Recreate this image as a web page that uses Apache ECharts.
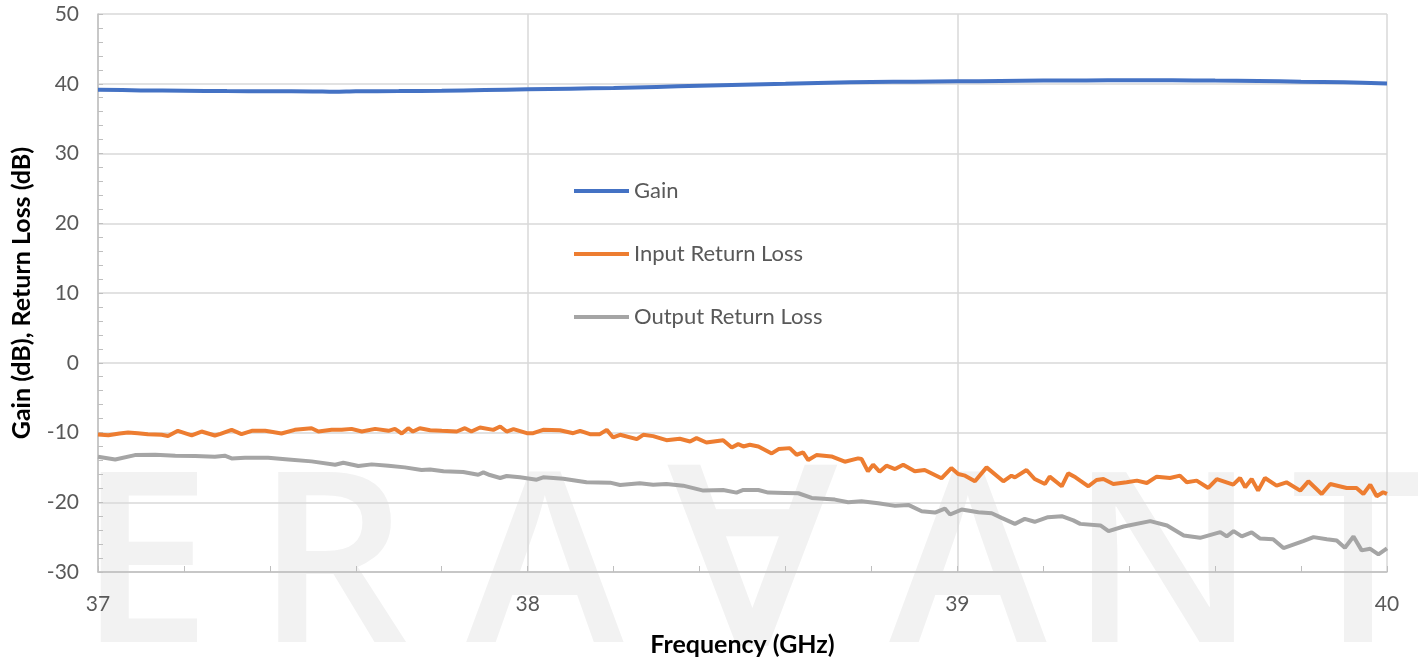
<!DOCTYPE html>
<html>
<head>
<meta charset="utf-8">
<title>Gain and Return Loss</title>
<script src="https://cdn.jsdelivr.net/npm/echarts@6/dist/echarts.min.js"></script>
<style>
  html, body { margin: 0; padding: 0; background: #fff; }
  #chart { width: 1418px; height: 662px; }
</style>
</head>
<body>
<div id="chart"></div>
<script>
// values (GHz / dB)
var gainFreq = [37.00, 37.10, 37.20, 37.30, 37.40, 37.50, 37.55, 37.60, 37.70, 37.80, 37.90, 38.00,
  38.10, 38.20, 38.30, 38.40, 38.50, 38.60, 38.70, 38.80, 38.90, 39.00, 39.10, 39.20, 39.30,
  39.40, 39.50, 39.60, 39.70, 39.80, 39.90, 40.00];
var gain = [39.15, 39.05, 39.0, 38.95, 38.92, 38.9, 38.85, 38.92, 38.95, 39.0, 39.1, 39.2,
  39.3, 39.4, 39.55, 39.7, 39.85, 40.0, 40.15, 40.25, 40.3, 40.35, 40.4, 40.45, 40.48,
  40.5, 40.5, 40.45, 40.4, 40.3, 40.2, 40.05];

var inFreq = [37.000, 37.024, 37.050, 37.070, 37.093, 37.116, 37.148, 37.163, 37.186, 37.218,
  37.241, 37.272, 37.285, 37.311, 37.334, 37.358, 37.389, 37.400, 37.427, 37.458, 37.497,
  37.513, 37.544, 37.567, 37.590, 37.614, 37.645, 37.676, 37.691, 37.707, 37.722, 37.733,
  37.749, 37.773, 37.800, 37.835, 37.854, 37.869, 37.889, 37.920, 37.936, 37.951, 37.967,
  37.998, 38.013, 38.036, 38.075, 38.106, 38.122, 38.145, 38.168, 38.184, 38.199, 38.215,
  38.254, 38.269, 38.292, 38.323, 38.354, 38.378, 38.393, 38.416, 38.455, 38.475, 38.490,
  38.502, 38.517, 38.537, 38.568, 38.584, 38.610, 38.626, 38.641, 38.653, 38.672, 38.707,
  38.738, 38.769, 38.777, 38.792, 38.804, 38.819, 38.835, 38.855, 38.874, 38.901, 38.924,
  38.963, 38.986, 39.002, 39.018, 39.041, 39.068, 39.107, 39.126, 39.134, 39.161, 39.180,
  39.204, 39.215, 39.243, 39.258, 39.275, 39.305, 39.324, 39.340, 39.363, 39.394, 39.418,
  39.441, 39.464, 39.495, 39.518, 39.534, 39.557, 39.584, 39.604, 39.642, 39.658, 39.670,
  39.685, 39.700, 39.716, 39.743, 39.766, 39.798, 39.817, 39.848, 39.868, 39.906, 39.929,
  39.945, 39.961, 39.976, 39.991, 40.000];
var inputLoss = [-10.3, -10.4, -10.15, -10.0, -10.1, -10.25, -10.33, -10.5, -9.76, -10.4,
  -9.86, -10.43, -10.2, -9.62, -10.24, -9.76, -9.76, -9.86, -10.14, -9.62, -9.38,
  -9.86, -9.62, -9.62, -9.48, -9.86, -9.48, -9.76, -9.48, -10.14, -9.38, -9.86,
  -9.38, -9.67, -9.76, -9.86, -9.38, -9.86, -9.29, -9.62, -9.14, -9.86, -9.52,
  -10.1, -10.1, -9.62, -9.67, -10.1, -9.76, -10.24, -10.24, -9.62, -10.71, -10.33,
  -10.95, -10.33, -10.52, -11.1, -10.9, -11.29, -10.81, -11.43, -11.1, -12.14, -11.67,
  -12.0, -11.76, -12.0, -13.0, -12.38, -12.24, -13.19, -12.86, -13.95, -13.24, -13.43,
  -14.19, -13.71, -13.8, -15.57, -14.62, -15.62, -14.76, -15.24, -14.62, -15.57, -15.38,
  -16.57, -15.1, -15.95, -16.19, -17.0, -15.0, -17.0, -16.19, -16.43, -15.38, -16.67,
  -17.38, -16.33, -17.71, -15.86, -16.43, -17.71, -16.81, -16.67, -17.38, -17.14, -16.9,
  -17.24, -16.33, -16.52, -16.19, -17.14, -16.9, -17.95, -16.67, -17.48, -16.52, -17.86,
  -16.67, -18.33, -16.52, -17.62, -17.14, -18.33, -17.0, -18.81, -17.38, -17.95, -17.95,
  -18.81, -17.48, -19.14, -18.57, -18.8];

var outFreq = [37.000, 37.040, 37.086, 37.133, 37.180, 37.226, 37.272, 37.295, 37.311, 37.342,
  37.396, 37.443, 37.497, 37.552, 37.571, 37.606, 37.637, 37.676, 37.714, 37.753, 37.773,
  37.804, 37.850, 37.885, 37.897, 37.912, 37.936, 37.951, 37.982, 38.021, 38.036, 38.083,
  38.137, 38.192, 38.215, 38.261, 38.292, 38.323, 38.362, 38.409, 38.455, 38.486, 38.502,
  38.537, 38.560, 38.599, 38.630, 38.661, 38.715, 38.746, 38.777, 38.816, 38.855, 38.886,
  38.917, 38.948, 38.971, 38.983, 39.010, 39.049, 39.080, 39.103, 39.134, 39.157, 39.180,
  39.211, 39.243, 39.270, 39.286, 39.333, 39.352, 39.387, 39.449, 39.488, 39.527, 39.565,
  39.612, 39.627, 39.643, 39.662, 39.685, 39.704, 39.735, 39.759, 39.805, 39.829, 39.860,
  39.883, 39.902, 39.922, 39.941, 39.961, 39.980, 40.000];
var outputLoss = [-13.48, -13.86, -13.24, -13.19, -13.33, -13.38, -13.48, -13.33, -13.71, -13.62,
  -13.62, -13.86, -14.14, -14.62, -14.33, -14.81, -14.57, -14.76, -15.0, -15.38, -15.29,
  -15.57, -15.67, -16.05, -15.71, -16.1, -16.52, -16.24, -16.43, -16.76, -16.43, -16.62,
  -17.14, -17.19, -17.52, -17.29, -17.48, -17.38, -17.62, -18.33, -18.24, -18.62, -18.24,
  -18.24, -18.62, -18.67, -18.71, -19.38, -19.62, -20.0, -19.86, -20.14, -20.52, -20.38,
  -21.29, -21.48, -20.9, -21.76, -21.05, -21.43, -21.57, -22.24, -23.1, -22.38, -22.8,
  -22.14, -22.0, -22.6, -23.1, -23.33, -24.14, -23.48, -22.71, -23.33, -24.76, -25.1,
  -24.29, -24.9, -24.14, -24.9, -24.33, -25.19, -25.29, -26.57, -25.57, -25.0, -25.29,
  -25.48, -26.52, -24.9, -26.9, -26.67, -27.48, -26.62];

var watermark = ['E', 'R', 'A', '\u2200', 'A', 'N', 'T'];
var markX = [145, 332, 545, 752, 968, 1163, 1358];

function pairs(xs, ys) {
  return xs.map(function (x, i) { return [x, ys[i]]; });
}

var chart = echarts.init(document.getElementById('chart'));

var labelFont = 'Lato, "Open Sans", sans-serif';

var option = {
  animation: false,
  backgroundColor: '#ffffff',
  // faint ERAVANT watermark behind the plot
  graphic: watermark.map(function (ch, i) {
    return {
      type: 'text',
      z: -10,
      silent: true,
      x: markX[i],
      y: 574,
      style: {
        text: ch,
        fill: '#f2f2f2',
        font: '600 238px "Open Sans", sans-serif',
        align: 'center',
        verticalAlign: 'middle'
      }
    };
  }),
  grid: {
    left: 98,
    right: 31,
    top: 14,
    bottom: 89
  },
  legend: {
    orient: 'vertical',
    left: 569,
    top: 175,
    itemGap: 41,
    itemWidth: 55,
    itemHeight: 4,
    icon: 'rect',
    textStyle: {
      color: '#595959',
      fontSize: 22,
      fontFamily: labelFont
    },
    data: ['Gain', 'Input Return Loss', 'Output Return Loss']
  },
  xAxis: {
    type: 'value',
    min: 37,
    max: 40,
    interval: 1,
    name: 'Frequency (GHz)',
    nameLocation: 'middle',
    nameGap: 60,
    nameTextStyle: {
      color: '#000',
      fontSize: 25,
      fontWeight: 'bold',
      fontFamily: labelFont
    },
    axisLine: { onZero: false, lineStyle: { color: '#bfbfbf', width: 1.5 } },
    axisTick: { show: true, inside: true, length: 6, lineStyle: { color: '#bfbfbf' } },
    minorTick: { show: true, splitNumber: 5, length: 6, lineStyle: { color: '#bfbfbf' } },
    splitLine: { show: true, lineStyle: { color: '#d9d9d9', width: 1.5 } },
    axisLabel: {
      color: '#595959',
      fontSize: 21,
      fontFamily: labelFont,
      margin: 22
    }
  },
  yAxis: {
    type: 'value',
    min: -30,
    max: 50,
    interval: 10,
    name: 'Gain (dB), Return Loss (dB)',
    nameLocation: 'middle',
    nameGap: 64,
    nameTextStyle: {
      color: '#000',
      fontSize: 25,
      fontWeight: 'bold',
      fontFamily: labelFont
    },
    axisLine: { show: true, onZero: false, lineStyle: { color: '#bfbfbf', width: 1.5 } },
    axisTick: { show: true, inside: true, length: 5, lineStyle: { color: '#bfbfbf' } },
    minorTick: { show: true, splitNumber: 5, length: 5, lineStyle: { color: '#bfbfbf' } },
    splitLine: { show: true, lineStyle: { color: '#d9d9d9', width: 1.5 } },
    axisLabel: {
      color: '#595959',
      fontSize: 21,
      fontFamily: labelFont,
      margin: 19
    }
  },
  series: [
    {
      name: 'Gain',
      type: 'line',
      symbol: 'none',
      smooth: 0.3,
      data: pairs(gainFreq, gain),
      lineStyle: { color: '#4472c4', width: 4 },
      itemStyle: { color: '#4472c4' }
    },
    {
      name: 'Input Return Loss',
      type: 'line',
      symbol: 'none',
      data: pairs(inFreq, inputLoss),
      lineStyle: { color: '#ed7d31', width: 4 },
      itemStyle: { color: '#ed7d31' }
    },
    {
      name: 'Output Return Loss',
      type: 'line',
      symbol: 'none',
      data: pairs(outFreq, outputLoss),
      lineStyle: { color: '#a5a5a5', width: 4 },
      itemStyle: { color: '#a5a5a5' }
    }
  ]
};

chart.setOption(option);
</script>
</body>
</html>
